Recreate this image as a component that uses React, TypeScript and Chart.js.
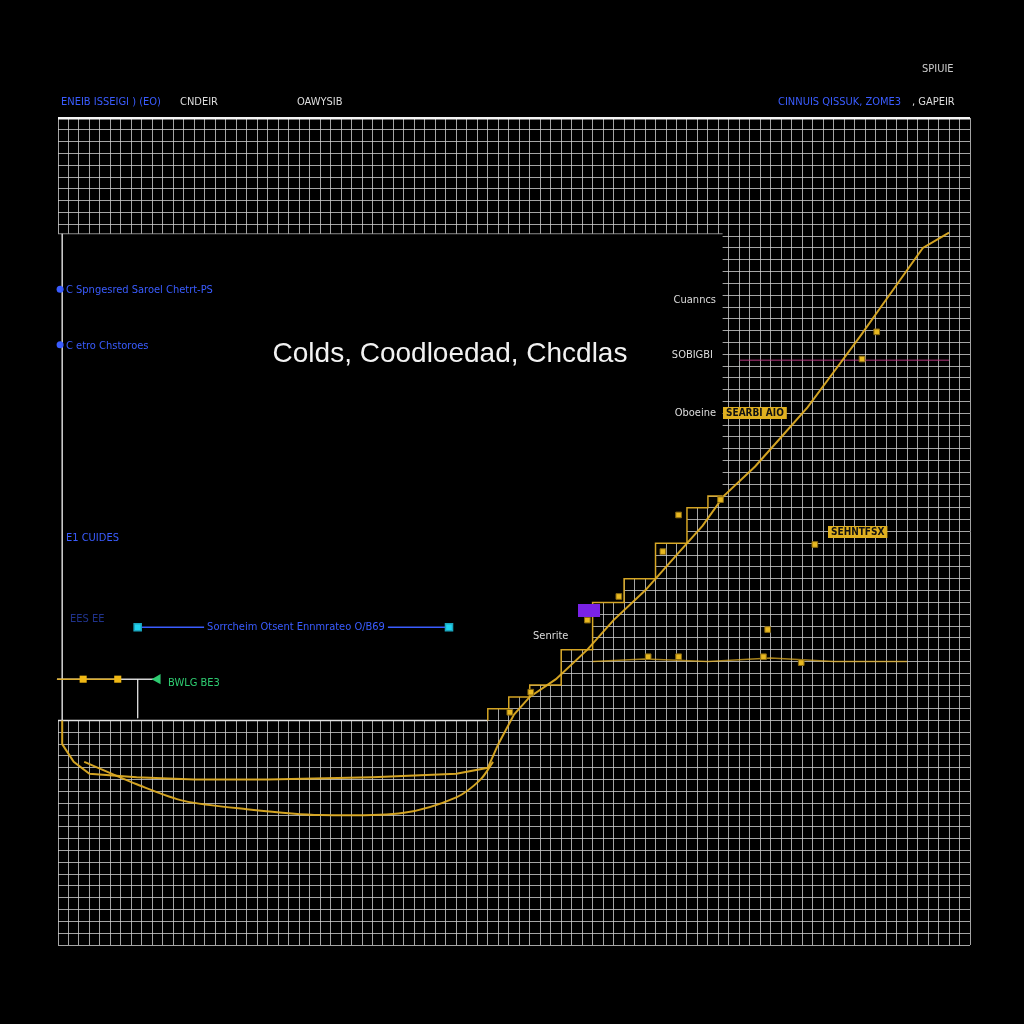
import React, { useEffect, useRef } from "react";
import { Chart, registerables } from "chart.js";
Chart.register(...registerables);

const chartTitle = "Colds, Coodloedad, Chcdlas";
const topLeftBlue = "ENEIB ISSEIGI ) (EO)";
const topLeftWhite = "CNDEIR";
const topMidWhite = "OAWYSIB";
const topRightBlue = "CINNUIS QISSUK, ZOME3";
const topRightWhite = ", GAPEIR";
const cornerLabel = "SPIUIE";
const legendLabels = ["C Spngesred Saroel Chetrt-PS", "C etro Chstoroes", "E1 CUIDES", "EES EE"];
const rangeLabel = "Sorrcheim Otsent Ennmrateo O/B69";
const greenLabel = "BWLG BE3";
const sideLabels = ["Cuanncs", "SOBIGBI", "Oboeine"];
const boxLabels = ["SEARBI AIO", "SEHNTFSX"];
const smallLabel = "Senrite";

// Main yellow series (grid units)
const mainX = [0.4, 0.4, 1.5, 3, 7.5, 13, 20, 30, 38, 41, 42, 43.5, 45, 47.5, 50.5, 53, 56, 59, 61.5, 63.5, 66.5, 69, 71.5, 74, 76.5, 78.5, 80.5, 82.5, 85];
const mainY = [19, 17, 15.5, 14.5, 14.2, 14, 14, 14.2, 14.5, 15, 17, 19.5, 21, 22.5, 25, 27.5, 30, 33, 35.5, 38, 40.5, 43, 45.5, 48.5, 51.5, 54, 56.5, 59, 60.3];
// Lower yellow series
const lowerX = [2.5, 7.8, 12, 18, 25, 33, 38, 40.3, 41.5];
const lowerY = [15.5, 13.5, 12.2, 11.5, 11.0, 11.2, 12.5, 14, 15.5];
// Secondary yellow level
const secX = [51, 56, 62, 68, 74, 81];
const secY = [24, 24.2, 24, 24.3, 24, 24];
// Square markers
const markerX = [45.1, 43.1, 57.7, 59.2, 63.2, 67.7, 70.9, 76.7, 78.1, 72.2, 56.3, 59.2, 67.3, 50.5, 53.5];
const markerY = [21.4, 19.7, 33.3, 36.4, 37.7, 26.7, 23.9, 49.6, 51.9, 33.9, 24.4, 24.4, 24.4, 27.5, 29.5];
// Masked (empty) panel boundary
const maskX = [0, 41, 41, 43, 43, 45, 45, 48, 48, 51, 51, 54, 54, 57, 57, 60, 60, 62, 62, 63.4];
const maskY = [19, 19, 20, 20, 21, 21, 22, 22, 25, 25, 29, 29, 31, 31, 34, 34, 37, 37, 38, 38];
const maskTop = 60.2;
// Legend dots
const dotX = [0.2, 0.2, -0.76, -0.5];
const dotY = [55.5, 50.8, 34.5, 27.6];
// Range bar
const rangeX = [7.6, 37.3];
const rangeY = 26.9;
// Left marker line
const leftLineX = [-0.1, 9.3];
const leftLineY = 22.5;
const leftMarkX = [2.4, 5.7];
const faintX = [65, 85];
const faintY = 49.5;

const pts = (xs: number[], ys: number[]) => xs.map((x, i) => ({ x, y: ys[i] }));

const YELLOW = "rgba(222,172,36,0.95)";
const BLUE = "#3a5cff";

const bgPlugin = {
  id: "bg",
  beforeDraw(chart: any) {
    const { ctx, width, height } = chart;
    ctx.save();
    ctx.fillStyle = "#000";
    ctx.fillRect(0, 0, width, height);
    ctx.restore();
  },
};

const maskPlugin = {
  id: "mask",
  beforeDatasetsDraw(chart: any) {
    const ctx = chart.ctx as CanvasRenderingContext2D;
    const xs = chart.scales.x, ys = chart.scales.y;
    ctx.save();
    ctx.beginPath();
    maskX.forEach((x, i) => {
      const px = xs.getPixelForValue(x), py = ys.getPixelForValue(maskY[i]);
      if (i === 0) ctx.moveTo(px - 1, py); else ctx.lineTo(px, py);
    });
    ctx.lineTo(xs.getPixelForValue(maskX[maskX.length - 1]), ys.getPixelForValue(maskTop));
    ctx.lineTo(xs.getPixelForValue(maskX[0]) - 1, ys.getPixelForValue(maskTop));
    ctx.closePath();
    ctx.fillStyle = "#000";
    ctx.fill();
    ctx.restore();
  },
};

const textPlugin = {
  id: "texts",
  afterDraw(chart: any) {
    const ctx = chart.ctx as CanvasRenderingContext2D;
    const small = '11px "Liberation Sans Narrow", "DejaVu Sans Condensed", "Liberation Sans", sans-serif';
    ctx.save();
    ctx.textBaseline = "middle";
    const t = (s: string, x: number, y: number, c: string, align: CanvasTextAlign = "left", f = small) => {
      ctx.font = f;
      ctx.fillStyle = c;
      ctx.textAlign = align;
      ctx.fillText(s, x, y);
    };
    t(topLeftBlue, 61, 102, BLUE);
    t(topLeftWhite, 180, 102, "#ddd");
    t(topMidWhite, 297, 102, "#ddd");
    t(topRightBlue, 778, 102, BLUE);
    t(topRightWhite, 912, 102, "#ddd");
    t(cornerLabel, 922, 69, "#ccc");
    t(legendLabels[0], 66, 290, BLUE);
    t(legendLabels[1], 66, 346, BLUE);
    t(legendLabels[2], 66, 538, BLUE);
    t(legendLabels[3], 70, 619, "rgba(58,92,255,0.55)");
    ctx.font = small;
    const w = ctx.measureText(rangeLabel).width;
    ctx.fillStyle = "#000";
    ctx.fillRect(296 - w / 2 - 3, 620, w + 6, 12);
    t(rangeLabel, 296, 627, BLUE, "center");
    t(greenLabel, 168, 683, "#2ecc71");
    t(sideLabels[0], 716, 300, "#ddd", "right");
    t(sideLabels[1], 713, 355, "#ddd", "right");
    t(sideLabels[2], 716, 413, "#ddd", "right");
    t(smallLabel, 533, 636, "#ddd");
    const box = (s: string, x: number, y: number) => {
      ctx.font = 'bold 10px "DejaVu Sans Condensed", "Liberation Sans", sans-serif';
      const bw = ctx.measureText(s).width + 6;
      ctx.fillStyle = "#e0b020";
      ctx.fillRect(x, y - 6, bw, 12);
      ctx.fillStyle = "#111";
      ctx.textAlign = "left";
      ctx.fillText(s, x + 3, y + 0.5);
    };
    box(boxLabels[0], 723, 413);
    box(boxLabels[1], 828, 532);
    ctx.fillStyle = "#7a22e6";
    ctx.fillRect(578, 604, 22, 13);
    t(chartTitle, 450, 354, "#f2f2f2", "center", '28px "Liberation Sans", Arial, sans-serif');
    ctx.restore();
  },
};

export default function App() {
  const ref = useRef<HTMLCanvasElement>(null);
  useEffect(() => {
    if (!ref.current) return;
    const whiteSeg = "rgba(235,235,235,0.95)";
    const chart = new Chart(ref.current, {
      type: "line",
      data: {
        datasets: [
          {
            label: "mask",
            data: pts(maskX, maskY),
            borderColor: whiteSeg,
            borderWidth: 1.5,
            segment: { borderColor: (c: any) => (c.p0.parsed.x < 41 ? whiteSeg : YELLOW) },
            pointRadius: 0,
            fill: false,
            order: 10,
          },
          {
            label: "maskTop",
            data: pts([maskX[0], maskX[maskX.length - 1]], [maskTop, maskTop]),
            borderColor: "rgba(200,200,200,0.7)",
            borderWidth: 1,
            pointRadius: 0,
            fill: false,
            order: 9,
          },
          {
            label: "frameLeft",
            data: [{ x: 0.4, y: maskTop }, { x: 0.4, y: maskY[0] }],
            borderColor: "rgba(235,235,235,0.9)",
            borderWidth: 1.5,
            pointRadius: 0,
            fill: false,
            order: 8,
          },
          {
            label: "main",
            data: pts(mainX, mainY),
            borderColor: YELLOW,
            borderWidth: 2,
            pointRadius: 0,
            fill: false,
            order: 2,
          },
          {
            label: "lower",
            data: pts(lowerX, lowerY),
            borderColor: YELLOW,
            borderWidth: 2,
            pointRadius: 0,
            tension: 0.3,
            fill: false,
            order: 2,
          },
          {
            label: "secondary",
            data: pts(secX, secY),
            borderColor: "rgba(222,172,36,0.75)",
            borderWidth: 1.5,
            pointRadius: 0,
            fill: false,
            order: 2,
          },
          {
            label: "markers",
            data: pts(markerX, markerY),
            showLine: false,
            pointStyle: "rect",
            pointRadius: 4,
            backgroundColor: "#e8b820",
            borderColor: "#8a6a10",
            borderWidth: 1,
            order: 1,
          },
          {
            label: "faint",
            data: pts(faintX, [faintY, faintY]),
            borderColor: "rgba(200,60,140,0.6)",
            borderWidth: 1.5,
            pointRadius: 0,
            fill: false,
            order: 3,
          },
          {
            label: "dots",
            data: pts(dotX, dotY),
            showLine: false,
            pointRadius: 3.5,
            backgroundColor: [BLUE, BLUE, BLUE, "rgba(58,92,255,0.5)"],
            borderWidth: 0,
            clip: false,
            order: 1,
          },
          {
            label: "range",
            data: pts(rangeX, [rangeY, rangeY]),
            borderColor: BLUE,
            borderWidth: 1.5,
            pointStyle: "rect",
            pointRadius: 5,
            pointBackgroundColor: "#22d3ee",
            pointBorderColor: "#1aa7c0",
            fill: false,
            order: 1,
          },
          {
            label: "leftLine",
            data: pts(leftLineX, [leftLineY, leftLineY]),
            borderColor: "rgba(235,235,235,0.9)",
            borderWidth: 1.5,
            pointRadius: 0,
            fill: false,
            clip: false,
            order: 4,
          },
          {
            label: "leftYellow",
            data: pts([-0.1, 6], [leftLineY, leftLineY]),
            borderColor: YELLOW,
            borderWidth: 1.5,
            pointRadius: 0,
            fill: false,
            clip: false,
            order: 3,
          },
          {
            label: "leftMarks",
            data: pts(leftMarkX, [leftLineY, leftLineY]),
            showLine: false,
            pointStyle: "rect",
            pointRadius: 5,
            backgroundColor: "#f0b814",
            borderWidth: 0,
            order: 1,
          },
          {
            label: "tick",
            data: [{ x: 7.6, y: leftLineY }, { x: 7.6, y: 19.2 }],
            borderColor: "rgba(220,220,220,0.9)",
            borderWidth: 1,
            pointRadius: 0,
            fill: false,
            order: 4,
          },
          {
            label: "flag",
            data: [{ x: 9.5, y: leftLineY }],
            showLine: false,
            pointStyle: "triangle",
            rotation: 270,
            pointRadius: 6,
            backgroundColor: "#2ecc71",
            borderWidth: 0,
            clip: false,
            order: 1,
          },
        ],
      },
      options: {
        animation: false,
        responsive: false,
        layout: { padding: { left: 58, right: 54, top: 118, bottom: 79 } },
        plugins: { legend: { display: false }, tooltip: { enabled: false }, title: { display: false } },
        scales: {
          x: {
            type: "linear",
            min: 0,
            max: 87,
            ticks: { display: false, stepSize: 1, maxTicksLimit: 200, autoSkip: false },
            grid: { color: "rgba(205,205,205,0.8)", lineWidth: 1, drawTicks: false },
            border: { display: false },
          },
          y: {
            type: "linear",
            min: 0,
            max: 70,
            ticks: { display: false, stepSize: 1, maxTicksLimit: 200, autoSkip: false },
            grid: {
              color: (c: any) => (c.tick && c.tick.value === 70 ? "#f5f5f5" : "rgba(205,205,205,0.8)"),
              lineWidth: (c: any) => (c.tick && c.tick.value === 70 ? 2.5 : 1),
              drawTicks: false,
            },
            border: { display: false },
          },
        },
      },
      plugins: [bgPlugin, maskPlugin, textPlugin],
    } as any);
    return () => chart.destroy();
  }, []);
  return (
    <div style={{ position: "fixed", left: 0, top: 0, width: 1024, height: 1024, background: "#000" }}>
      <canvas ref={ref} width={1024} height={1024} style={{ display: "block" }} />
    </div>
  );
}
